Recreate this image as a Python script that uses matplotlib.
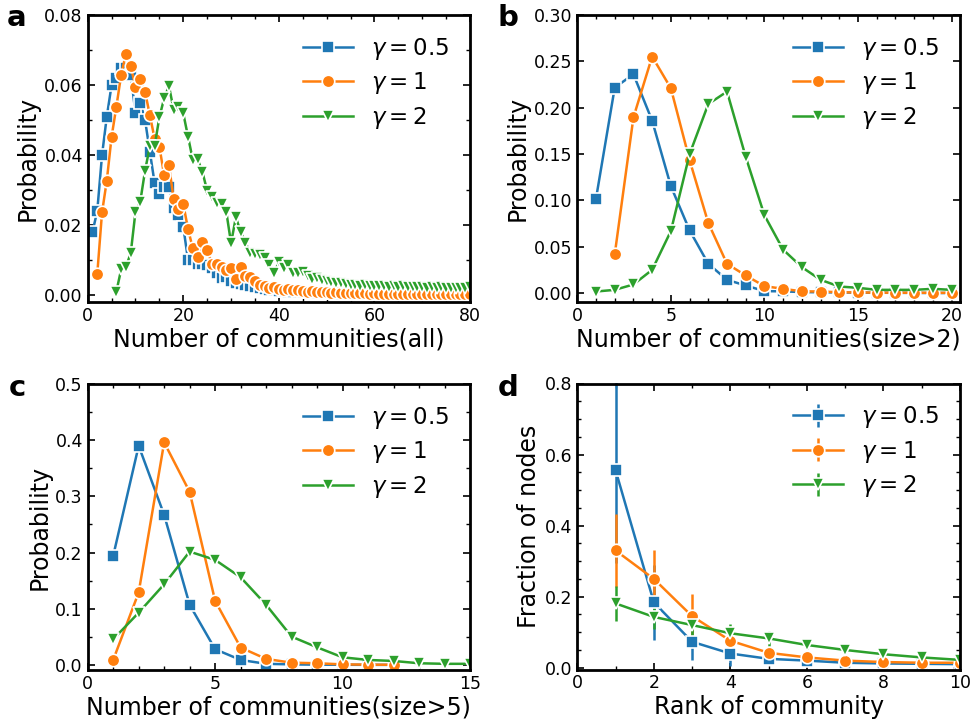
import numpy as np
import matplotlib
matplotlib.use('Agg')
from matplotlib import pyplot as plt
from matplotlib.ticker import MultipleLocator

# panel a: number of communities (all)
xa_05 = list(range(1, 61))
ya_05 = [0.018, 0.024, 0.040, 0.051, 0.060, 0.062, 0.065, 0.065, 0.063, 0.052,
         0.055, 0.050, 0.041, 0.032, 0.029, 0.031, 0.031, 0.025, 0.023, 0.0195,
         0.010, 0.010, 0.009, 0.009, 0.0085, 0.0076, 0.0062, 0.0048, 0.0052, 0.004,
         0.0035, 0.0032, 0.003, 0.0025, 0.0022, 0.002, 0.0018, 0.0015, 0.0015, 0.0012,
         0.0011, 0.001, 0.001, 0.0009, 0.0008, 0.0008, 0.0007, 0.0006, 0.0006, 0.0005,
         0.0005, 0.0004, 0.0004, 0.0004, 0.0003, 0.0003, 0.0003, 0.0002, 0.0002, 0.0002]
xa_1 = list(range(2, 81))
ya_1 = [0.006, 0.0236, 0.0327, 0.0452, 0.0538, 0.0629, 0.0689, 0.0654, 0.0595, 0.0616,
        0.0581, 0.0514, 0.0447, 0.0424, 0.0342, 0.0371, 0.0273, 0.0245, 0.026, 0.0188,
        0.0133, 0.011, 0.0152, 0.0128, 0.009, 0.0088, 0.008, 0.0071, 0.0076, 0.0045,
        0.0081, 0.0055, 0.0051, 0.004, 0.0029, 0.0025, 0.0019, 0.0022, 0.0017, 0.0015,
        0.0018, 0.0014, 0.0013, 0.0012, 0.001, 0.0011, 0.0009, 0.001, 0.0008, 0.0007,
        0.0008, 0.0006, 0.0007, 0.0005, 0.0006, 0.0005, 0.0005, 0.0004, 0.0005, 0.0004,
        0.0004, 0.0003, 0.0004, 0.0003, 0.0004, 0.0003, 0.0003, 0.0003, 0.0002, 0.0003,
        0.0002, 0.0003, 0.0002, 0.0002, 0.0003, 0.0002, 0.0002, 0.0002, 0.0003]
xa_2 = list(range(6, 81))
ya_2 = [0.001, 0.0073, 0.0081, 0.0119, 0.0238, 0.0267, 0.0355, 0.0425, 0.0425, 0.0508,
        0.0562, 0.0597, 0.0529, 0.0538, 0.0519, 0.0452, 0.0386, 0.0388, 0.0352, 0.0298,
        0.0279, 0.0264, 0.026, 0.0238, 0.0148, 0.0222, 0.0181, 0.015, 0.0121, 0.0117,
        0.0114, 0.0105, 0.0086, 0.0062, 0.0095, 0.0076, 0.0085, 0.0062, 0.0062, 0.0065,
        0.0055, 0.0045, 0.005, 0.0043, 0.004, 0.0036, 0.0035, 0.0033, 0.0031, 0.0028,
        0.003, 0.0027, 0.0029, 0.0026, 0.0027, 0.0025, 0.0027, 0.0024, 0.0026, 0.0023,
        0.0025, 0.0022, 0.0024, 0.0022, 0.0023, 0.0021, 0.0022, 0.002, 0.0022, 0.002,
        0.0021, 0.0019, 0.002, 0.0019, 0.0024]

# panel b: number of communities (size>2)
xb_05 = list(range(1, 21))
yb_05 = [0.102, 0.2217, 0.2361, 0.186, 0.1154, 0.0678, 0.0317, 0.0144, 0.0083, 0.0022,
         0.002, 0.0012, 0.001, 0.0008, 0.0006, 0.0005, 0.0004, 0.0003, 0.0002, 0.0002]
xb_1 = list(range(2, 21))
yb_1 = [0.0418, 0.1896, 0.2552, 0.221, 0.1435, 0.0757, 0.0317, 0.0191, 0.0076, 0.0047,
        0.002, 0.0018, 0.001, 0.0008, 0.0006, 0.0005, 0.0005, 0.0004, 0.0004]
xb_2 = list(range(1, 21))
yb_2 = [0.0018, 0.0036, 0.0094, 0.0252, 0.067, 0.15, 0.204, 0.2174, 0.147, 0.084,
        0.0469, 0.0281, 0.0144, 0.0072, 0.0058, 0.0036, 0.0036, 0.0036, 0.0047, 0.0036]

# panel c: number of communities (size>5)
xc_05 = list(range(1, 13))
yc_05 = [0.194, 0.39, 0.267, 0.107, 0.028, 0.0089, 0.002, 0.001, 0.0005, 0.0003, 0.0002, 0.0001]
xc_1 = list(range(1, 13))
yc_1 = [0.0089, 0.129, 0.396, 0.308, 0.114, 0.031, 0.0107, 0.004, 0.003, 0.001, 0.0005, 0.0003]
xc_2 = list(range(1, 16))
yc_2 = [0.0457, 0.093, 0.1435, 0.2017, 0.187, 0.156, 0.107, 0.0504, 0.0314, 0.0136,
        0.0089, 0.0071, 0.003, 0.002, 0.002]

# panel d: fraction of nodes vs rank
xd = list(range(1, 11))
yd_05 = [0.556, 0.184, 0.073, 0.040, 0.025, 0.020, 0.014, 0.012, 0.011, 0.010]
ed_05 = [0.26, 0.105, 0.052, 0.035, 0.012, 0.008, 0.005, 0.004, 0.003, 0.003]
yd_1 = [0.330, 0.250, 0.145, 0.076, 0.042, 0.029, 0.020, 0.016, 0.014, 0.014]
ed_1 = [0.104, 0.08, 0.062, 0.03, 0.015, 0.008, 0.006, 0.005, 0.004, 0.004]
yd_2 = [0.181, 0.143, 0.120, 0.097, 0.0825, 0.064, 0.050, 0.038, 0.029, 0.022]
ed_2 = [0.05, 0.035, 0.03, 0.026, 0.02, 0.012, 0.009, 0.007, 0.005, 0.004]

labels = [r'$\gamma = 0.5$', r'$\gamma = 1$', r'$\gamma = 2$']
colors = ['#1f77b4', '#ff7f0e', '#2ca02c']
markers = ['s', 'o', 'v']

plt.rcParams['xtick.direction'] = 'in'
plt.rcParams['ytick.direction'] = 'in'
plt.rcParams['xtick.top'] = True
plt.rcParams['ytick.right'] = True
plt.rcParams['xtick.major.size'] = 5
plt.rcParams['ytick.major.size'] = 5
plt.rcParams['xtick.minor.size'] = 3
plt.rcParams['ytick.minor.size'] = 3
plt.rcParams['xtick.major.width'] = 1.2
plt.rcParams['ytick.major.width'] = 1.2
plt.rcParams['axes.linewidth'] = 2

fig = plt.figure(figsize=(9.71, 7.28), dpi=100)
W, H = 971.0, 728.0
ax_a = fig.add_axes([87.7 / W, 1 - 302 / H, 382.3 / W, 287 / H])
ax_b = fig.add_axes([577.3 / W, 1 - 302 / H, 382.7 / W, 287 / H])
ax_c = fig.add_axes([87.7 / W, 1 - 670 / H, 382.3 / W, 286 / H])
ax_d = fig.add_axes([577.3 / W, 1 - 669.5 / H, 382.7 / W, 286 / H])

kw = dict(markersize=9, markeredgecolor='white', markeredgewidth=1.2, linewidth=1.8)

def draw(ax, xs, ys):
    for x, y, c, m, lab in zip(xs, ys, colors, markers, labels):
        ax.plot(x, y, marker=m, color=c, label=lab, **kw)

draw(ax_a, [xa_05, xa_1, xa_2], [ya_05, ya_1, ya_2])
draw(ax_b, [xb_05, xb_1, xb_2], [yb_05, yb_1, yb_2])
draw(ax_c, [xc_05, xc_1, xc_2], [yc_05, yc_1, yc_2])
for y, e, c, m, lab in zip([yd_05, yd_1, yd_2], [ed_05, ed_1, ed_2], colors, markers, labels):
    ax_d.errorbar(xd, y, yerr=e, marker=m, color=c, label=lab, elinewidth=1.8, capsize=0, **kw)

ax_a.set_xlim(0, 80); ax_a.set_ylim(-0.002, 0.08)
ax_a.xaxis.set_major_locator(MultipleLocator(20)); ax_a.xaxis.set_minor_locator(MultipleLocator(5))
ax_a.yaxis.set_major_locator(MultipleLocator(0.02)); ax_a.yaxis.set_minor_locator(MultipleLocator(0.01))
ax_a.set_xlabel('Number of communities(all)'); ax_a.set_ylabel('Probability')

ax_b.set_xlim(0, 20.45); ax_b.set_ylim(-0.0095, 0.30)
ax_b.xaxis.set_major_locator(MultipleLocator(5)); ax_b.xaxis.set_minor_locator(MultipleLocator(1))
ax_b.yaxis.set_major_locator(MultipleLocator(0.05))
ax_b.set_xlabel('Number of communities(size>2)'); ax_b.set_ylabel('Probability')

ax_c.set_xlim(0, 15); ax_c.set_ylim(-0.009, 0.5)
ax_c.xaxis.set_major_locator(MultipleLocator(5)); ax_c.xaxis.set_minor_locator(MultipleLocator(1))
ax_c.yaxis.set_major_locator(MultipleLocator(0.1)); ax_c.yaxis.set_minor_locator(MultipleLocator(0.05))
ax_c.set_xlabel('Number of communities(size>5)'); ax_c.set_ylabel('Probability')

ax_d.set_xlim(0, 10); ax_d.set_ylim(-0.005, 0.8)
ax_d.xaxis.set_major_locator(MultipleLocator(2)); ax_d.xaxis.set_minor_locator(MultipleLocator(1))
ax_d.yaxis.set_major_locator(MultipleLocator(0.2)); ax_d.yaxis.set_minor_locator(MultipleLocator(0.05))
ax_d.set_xlabel('Rank of community'); ax_d.set_ylabel('Fraction of nodes')

for ax in [ax_a, ax_b, ax_c, ax_d]:
    ax.tick_params(labelsize=12.5)
    ax.tick_params(which='minor', width=1.0)
    ax.xaxis.label.set_size(17)
    ax.yaxis.label.set_size(17)
    ax.xaxis.labelpad = 2
    ax.yaxis.labelpad = 3
    ax.legend(loc='upper right', frameon=False, fontsize=16.5, handlelength=2.2,
              labelspacing=0.37)

for lab, (x, y) in zip('abcd', [(17, 18), (508, 18), (17, 388), (508, 388)]):
    fig.text(x / W, 1 - y / H, lab, fontsize=21, fontweight='bold', ha='center', va='center')

fig.savefig('out.png', dpi=100)
